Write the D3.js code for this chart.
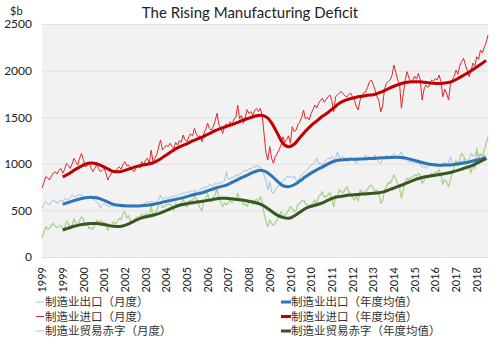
<!DOCTYPE html>
<html>
<head>
<meta charset="utf-8">
<script src="https://cdn.jsdelivr.net/npm/d3@7"></script>
<style>
  body { margin: 0; background: #fff; }
  svg text { font-family: Lato, "Noto Sans", sans-serif; fill: #222; }
  .legend text { font-family: "Noto Sans CJK SC", sans-serif; fill: #333; }
</style>
</head>
<body>
<div class="chart"></div>
<script>
// monthly values, $b (annualised), Jan 1999 - Oct 2018
let importsMonthly = [
  740, 800, 862, 850, 826, 870, 900, 915, 890, 930, 951, 898,
  940, 1005, 980, 951, 1000, 1059, 1020, 987, 1060, 1113, 1040, 969,
  980, 1005, 960, 915, 950, 987, 950, 915, 930, 951, 900, 826,
  870, 900, 933, 910, 950, 969, 940, 990, 1023, 980, 987, 950,
  933, 915, 960, 987, 960, 1023, 990, 1040, 1059, 1000, 1148, 1023,
  1060, 1100, 1180, 1255, 1150, 1170, 1200, 1184, 1220, 1190, 1160, 1230,
  1200, 1250, 1230, 1309, 1260, 1237, 1290, 1320, 1300, 1381, 1320, 1290,
  1300, 1237, 1330, 1370, 1434, 1380, 1360, 1400, 1460, 1542, 1420, 1380,
  1327, 1400, 1430, 1400, 1452, 1420, 1480, 1500, 1631, 1480, 1520, 1434,
  1500, 1580, 1540, 1560, 1520, 1570, 1595, 1560, 1595, 1524, 1320, 1120,
  1040, 1184, 1060, 1005, 1080, 1113, 1150, 1200, 1291, 1230, 1260, 1300,
  1220, 1398, 1345, 1360, 1420, 1450, 1500, 1577, 1480, 1500, 1470, 1540,
  1580, 1631, 1600, 1650, 1680, 1703, 1660, 1690, 1720, 1738, 1680, 1559,
  1720, 1740, 1760, 1774, 1750, 1730, 1720, 1738, 1760, 1720, 1680, 1620,
  1577, 1680, 1740, 1760, 1774, 1820, 1881, 1900, 1850, 1790, 1720, 1680,
  1559, 1620, 1800, 1864, 1880, 1900, 1950, 2060, 1980, 1900, 1860, 1595,
  1750, 1900, 1989, 1920, 1880, 1900, 1940, 1910, 1971, 1900, 1684, 1800,
  1846, 1820, 1846, 1900, 1880, 1917, 1900, 1953, 1880, 1720, 1800, 1760,
  1684, 1850, 1900, 1935, 2006, 1960, 2050, 2100, 2132, 2060, 2000, 1935,
  2000, 2080, 2050, 2149, 2120, 2221, 2190, 2250, 2300, 2382
];
let exportsMonthly = [
  522, 560, 593, 570, 558, 590, 612, 600, 576, 600, 610, 590,
  630, 620, 612, 640, 665, 650, 647, 660, 665, 670, 640, 630,
  630, 640, 647, 620, 610, 593, 580, 522, 560, 576, 560, 540,
  540, 555, 540, 558, 570, 555, 540, 522, 540, 558, 545, 560,
  560, 545, 540, 555, 540, 560, 570, 580, 593, 575, 600, 590,
  580, 600, 620, 665, 620, 630, 640, 620, 650, 640, 660, 650,
  660, 680, 670, 690, 680, 700, 690, 710, 700, 720, 690, 710,
  720, 740, 730, 760, 750, 780, 770, 760, 790, 780, 800, 790,
  800, 820, 915, 840, 830, 860, 850, 880, 870, 890, 900, 920,
  930, 920, 950, 940, 969, 960, 987, 960, 970, 933, 880, 820,
  719, 808, 700, 683, 720, 750, 773, 790, 810, 840, 862, 860,
  862, 850, 870, 830, 808, 860, 880, 898, 920, 940, 960, 990,
  1000, 1020, 1059, 1000, 1010, 969, 1020, 1040, 1060, 1050, 1080, 1040,
  1060, 1130, 1070, 1060, 1080, 1050, 1023, 1050, 1070, 1040, 1060, 1005,
  1040, 1060, 1050, 1070, 1094, 1060, 1080, 1050, 1070, 1094, 1040, 1020,
  1000, 1050, 1070, 1094, 1060, 1080, 1090, 1110, 1070, 1080, 1100, 1130,
  1040, 1060, 1030, 1020, 1030, 1010, 1020, 1000, 1020, 990, 960, 980,
  951, 970, 990, 980, 1000, 990, 1010, 980, 990, 1000, 1020, 990,
  1010, 1076, 1020, 1000, 1005, 1010, 1030, 1020, 1040, 1060, 1030, 1050,
  1113, 1080, 1100, 1130, 1090, 1110, 1080, 1100, 1060, 1040
];
let deficitMonthly = [
  210, 260, 325, 300, 308, 340, 361, 330, 314, 330, 341, 308,
  310, 385, 368, 311, 335, 409, 373, 327, 395, 432, 400, 339,
  350, 308, 313, 295, 340, 394, 370, 393, 370, 375, 340, 286,
  330, 345, 379, 352, 380, 414, 400, 468, 486, 422, 442, 390,
  373, 370, 420, 432, 420, 463, 420, 460, 466, 425, 548, 433,
  480, 500, 560, 593, 530, 540, 560, 564, 570, 550, 500, 580,
  540, 570, 560, 619, 580, 537, 600, 610, 600, 647, 630, 580,
  522, 497, 600, 610, 683, 600, 590, 640, 670, 737, 620, 590,
  540, 580, 560, 580, 620, 580, 620, 620, 683, 600, 620, 560,
  570, 540, 590, 610, 560, 600, 620, 590, 647, 600, 470, 380,
  325, 397, 361, 340, 370, 400, 440, 486, 432, 450, 470, 500,
  540, 520, 486, 500, 560, 580, 600, 612, 570, 560, 540, 560,
  580, 611, 560, 650, 665, 701, 640, 650, 670, 690, 620, 540,
  660, 640, 719, 700, 690, 720, 754, 700, 680, 640, 612, 650,
  600, 719, 700, 690, 700, 730, 754, 773, 740, 700, 719, 680,
  576, 600, 720, 754, 800, 790, 830, 880, 840, 780, 740, 630,
  720, 800, 844, 830, 850, 860, 880, 870, 898, 880, 791, 820,
  880, 850, 860, 900, 880, 915, 890, 940, 880, 780, 830, 810,
  754, 820, 900, 960, 1040, 980, 1050, 1113, 1090, 1000, 970, 960,
  900, 1000, 950, 1166, 1050, 1110, 1076, 1150, 1220, 1290
];

// trailing annual averages, read every 3 months from Dec 1999
let importsAvg = [
  860, 890, 930, 965, 995, 1008, 1000, 975, 945, 918,
  915, 930, 950, 970, 985, 995, 1010, 1040, 1080, 1120,
  1160, 1190, 1215, 1245, 1270, 1295, 1325, 1355, 1380, 1400,
  1420, 1445, 1470, 1490, 1510, 1520, 1505, 1440, 1330, 1220,
  1184, 1210, 1280, 1350, 1410, 1460, 1510, 1550, 1600, 1650,
  1680, 1700, 1715, 1725, 1735, 1740, 1760, 1785, 1815, 1840,
  1862, 1875, 1880, 1881, 1875, 1868, 1862, 1862, 1870, 1885,
  1915, 1950, 1985, 2025, 2065, 2110
];
let exportsAvg = [
  565, 585, 605, 622, 635, 640, 635, 615, 590, 565,
  555, 550, 548, 548, 550, 555, 563, 578, 592, 605,
  618, 632, 648, 665, 680, 695, 718, 738, 755, 772,
  800, 830, 860, 888, 915, 930, 915, 870, 815, 765,
  755, 775, 815, 860, 900, 935, 965, 1000, 1025, 1040,
  1045, 1048, 1050, 1052, 1055, 1058, 1062, 1065, 1068, 1070,
  1068, 1058, 1042, 1025, 1008, 995, 988, 985, 987, 990,
  998, 1008, 1020, 1035, 1050, 1065
];
let deficitAvg = [
  290, 310, 330, 345, 355, 360, 360, 352, 340, 330,
  328, 340, 365, 395, 420, 435, 448, 465, 490, 515,
  540, 560, 572, 582, 592, 600, 610, 622, 630, 630,
  624, 616, 610, 598, 585, 568, 535, 490, 450, 425,
  415, 440, 480, 520, 545, 560, 580, 610, 635, 648,
  658, 665, 670, 675, 678, 683, 690, 702, 725, 748,
  770, 795, 820, 842, 858, 868, 878, 888, 898, 912,
  930, 950, 970, 995, 1025, 1055
];

// year labels shown under every 11th month
let xTickLabels = ["1999", "1999", "2000", "2001", "2002", "2003", "2004", "2005",
  "2006", "2007", "2008", "2009", "2010", "2010", "2011", "2012", "2013", "2014",
  "2015", "2016", "2017", "2018"];
let yTicks = [0, 500, 1000, 1500, 2000, 2500];

let seriesNames = ["制造业出口（月度）", "制造业出口（年度均值）",
  "制造业进口（月度）", "制造业进口（年度均值）",
  "制造业贸易赤字（月度）", "制造业贸易赤字（年度均值）"];

let width = 499, height = 345;
let margin = {top: 24, right: 11, bottom: 88, left: 42};
let innerW = width - margin.left - margin.right;
let innerH = height - margin.top - margin.bottom;

let months = d3.timeMonth.range(new Date(1999, 0, 1), new Date(2018, 10, 1));
let avgMonths = d3.range(11, months.length, 3).map(i => months[i]).slice(0, importsAvg.length);

const svg = d3.select(".chart").append("svg")
  .attr("width", width)
  .attr("height", height);

svg.append("text")
  .attr("x", 250).attr("y", 18)
  .attr("text-anchor", "middle")
  .style("font-size", "15px")
  .text("The Rising Manufacturing Deficit");

svg.append("text")
  .attr("x", 10).attr("y", 15)
  .style("font-size", "11px")
  .text("$b");

const g = svg.append("g")
  .attr("transform", "translate(" + margin.left + "," + margin.top + ")");

let x = d3.scalePoint().domain(months).range([0, innerW]);
let y = d3.scaleLinear().domain([0, 2500]).range([innerH, 0]);

g.append("rect")
  .attr("width", innerW).attr("height", innerH)
  .attr("fill", "#f2f2f2");

// gridlines + labels
let yAxis = g.append("g")
  .call(d3.axisLeft(y).tickValues(yTicks).tickSize(-innerW).tickPadding(10).tickFormat(d3.format("d")));
yAxis.select(".domain").remove();
yAxis.selectAll(".tick line").attr("stroke", "#e0e0e0");
yAxis.selectAll(".tick text").style("font-size", "12px").style("font-family", "Lato").attr("fill", "#222");

let tickMonths = xTickLabels.map((d, i) => months[i * 11]);
let xAxis = g.append("g")
  .attr("transform", "translate(0," + innerH + ")")
  .call(d3.axisBottom(x).tickValues(tickMonths).tickSize(0).tickFormat((d, i) => xTickLabels[i]));
xAxis.select(".domain").remove();
xAxis.selectAll(".tick text")
  .attr("transform", "rotate(-90)")
  .attr("text-anchor", "end")
  .attr("x", -10).attr("y", 0).attr("dy", "0.33em")
  .style("font-size", "11px").style("font-family", "Lato").attr("fill", "#222");

let monthlyLine = vals => d3.line()
  .x((d, i) => x(months[i]))
  .y(d => y(d))(vals);
let avgLine = vals => d3.line()
  .x((d, i) => x(avgMonths[i]))
  .y(d => y(d))
  .curve(d3.curveMonotoneX)(vals);

let lines = [
  {d: monthlyLine(exportsMonthly), color: "#a3c1e0", w: 1},
  {d: monthlyLine(importsMonthly), color: "#e0282e", w: 1},
  {d: monthlyLine(deficitMonthly), color: "#a9d18e", w: 1.3},
  {d: avgLine(exportsAvg), color: "#2e75b6", w: 3},
  {d: avgLine(importsAvg), color: "#c00000", w: 3},
  {d: avgLine(deficitAvg), color: "#385723", w: 3}
];
g.selectAll("path.series")
  .data(lines)
  .enter()
  .append("path")
  .attr("class", "series")
  .attr("d", d => d.d)
  .attr("fill", "none")
  .attr("stroke", d => d.color)
  .attr("stroke-width", d => d.w)
  .attr("stroke-linejoin", "round");

// legend, two columns
let legendColors = ["#a3c1e0", "#2e75b6", "#e0282e", "#c00000", "#a9d18e", "#385723"];
let legend = svg.append("g").attr("class", "legend");
seriesNames.forEach(function (name, i) {
  let col = i % 2, row = Math.floor(i / 2);
  let lx = col === 0 ? 36 : 281;
  let ly = 302 + row * 14.5;
  legend.append("line")
    .attr("x1", lx).attr("x2", lx + (col === 0 ? 8 : 10))
    .attr("y1", ly).attr("y2", ly)
    .attr("stroke", legendColors[i])
    .attr("stroke-width", col === 0 ? 1 : 3);
  legend.append("text")
    .attr("x", lx + (col === 0 ? 9 : 10)).attr("y", ly)
    .attr("dy", "0.36em")
    .style("font-size", "11.5px")
    .text(name);
});
</script>
</body>
</html>
